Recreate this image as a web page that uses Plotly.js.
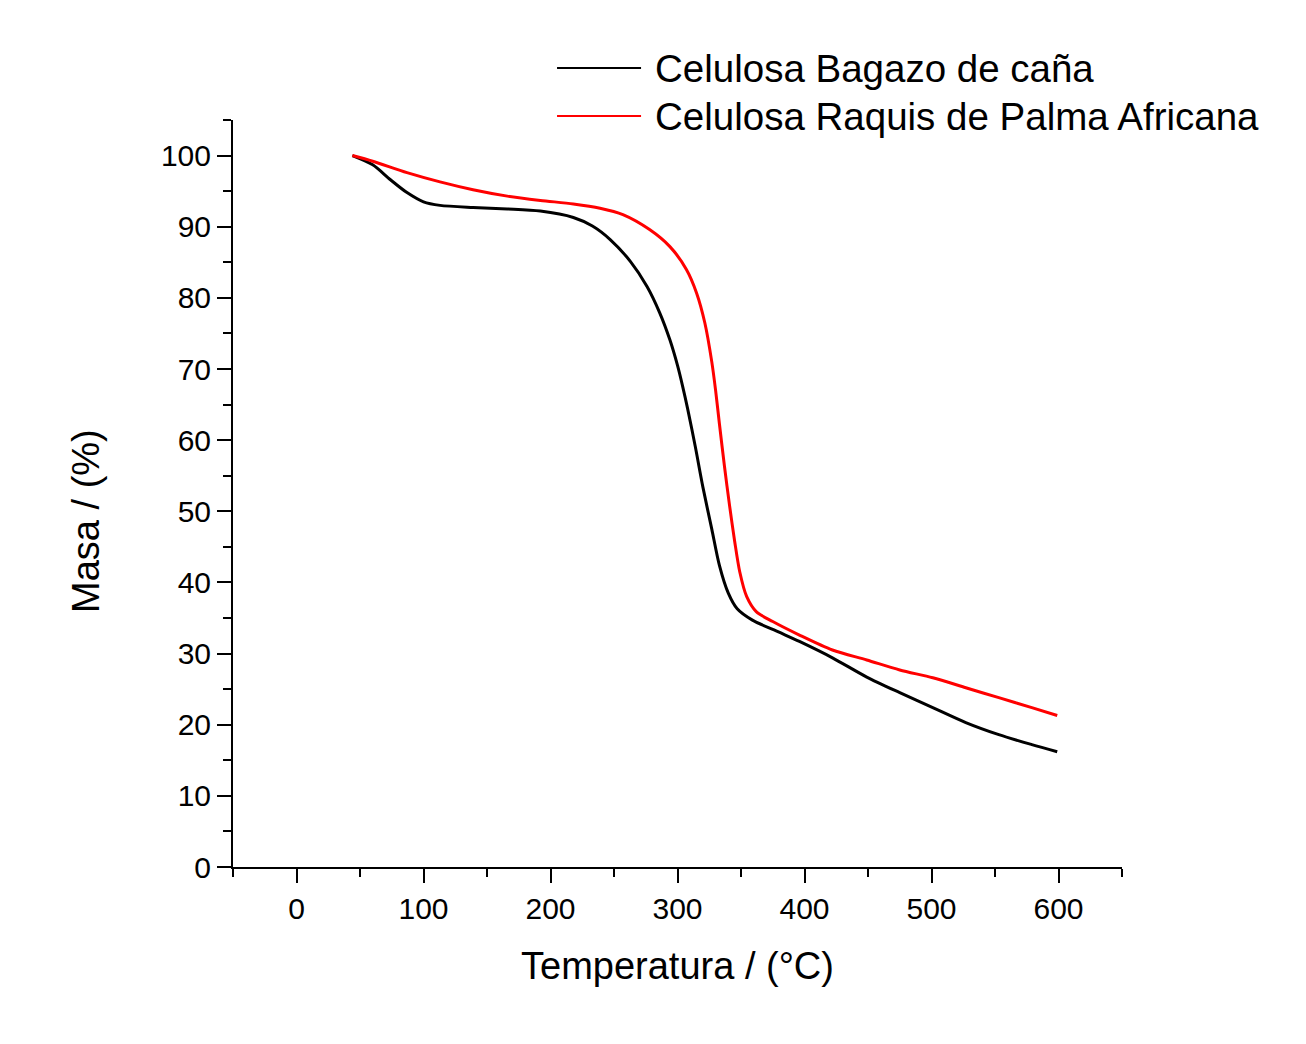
<!DOCTYPE html>
<html>
<head>
<meta charset="utf-8">
<script src="https://cdn.plot.ly/plotly-3.0.1.min.js"></script>
<style>body{margin:0;background:#fff}</style>
</head>
<body>
<div id="tga" style="width:1306px;height:1044px"></div>
<script>
// Celulosa Bagazo de caña
var tempBagazo = [44, 60, 74, 87, 100, 113, 139, 166, 192, 218, 233, 247, 263, 276, 286, 294, 300, 304, 308, 314, 320, 327, 333, 340, 347, 359, 380, 396, 422, 449, 475, 501, 527, 553, 579, 599];
var masaBagazo = [100, 98.7, 96.6, 94.8, 93.5, 93.0, 92.7, 92.5, 92.2, 91.3, 90.1, 88.2, 85.1, 81.6, 77.9, 74.1, 70.5, 67.6, 64.4, 59.1, 53.4, 47.5, 42.4, 38.5, 36.3, 34.7, 33.0, 31.7, 29.4, 26.7, 24.5, 22.4, 20.3, 18.6, 17.2, 16.2];

// Celulosa Raquis de Palma Africana
var tempRaquis = [44, 60, 87, 113, 139, 166, 192, 218, 239, 257, 278, 294, 307, 315, 321.5, 327, 330, 333, 337, 341, 345, 349, 354.5, 362, 375, 396, 422, 449, 475, 501, 527, 553, 579, 599];
var masaRaquis = [100, 99.2, 97.6, 96.3, 95.2, 94.3, 93.7, 93.2, 92.6, 91.7, 89.6, 87.2, 84.0, 80.7, 76.5, 71.0, 67.0, 62.3, 56.3, 50.8, 45.8, 41.5, 38.0, 35.9, 34.5, 32.6, 30.5, 29.1, 27.7, 26.6, 25.2, 23.8, 22.4, 21.3];

var seriesNames = ["Celulosa Bagazo de caña", "Celulosa Raquis de Palma Africana"];
var seriesColors = ["#000000", "#ff0000"];

var fnt = "Liberation Sans, Arial, sans-serif";

var data = [
  {x: tempBagazo, y: masaBagazo, name: seriesNames[0], type: "scatter", mode: "lines",
   line: {color: seriesColors[0], width: 3, shape: "spline", smoothing: 0.8}},
  {x: tempRaquis, y: masaRaquis, name: seriesNames[1], type: "scatter", mode: "lines",
   line: {color: seriesColors[1], width: 3, shape: "spline", smoothing: 0.8}}
];

// legend drawn by hand so the sample lines are long like the original
var legY = [1.0696, 1.0053];
var shapes = [], notes = [];
for (var i = 0; i < seriesNames.length; i++) {
  shapes.push({type: "line", xref: "paper", yref: "paper", x0: 0.3645, x1: 0.459, y0: legY[i], y1: legY[i],
    line: {color: seriesColors[i], width: 2}});
  notes.push({xref: "paper", yref: "paper", x: 0.4725, y: legY[i], xanchor: "left", yanchor: "middle",
    text: seriesNames[i], showarrow: false, font: {family: fnt, size: 38.5, color: "#000"}});
}
// y title sits a bit below the middle in the original
notes.push({xref: "paper", yref: "paper", x: -0.1654, y: 0.4632, xanchor: "center", yanchor: "middle",
  textangle: -90, text: "Masa / (%)", showarrow: false, font: {family: fnt, size: 38, color: "#000"}});

var axisCommon = {
  showgrid: false, zeroline: false, showline: true, linecolor: "#000", linewidth: 2,
  ticks: "outside", ticklen: 14, tickwidth: 2, tickcolor: "#000",
  tickfont: {family: fnt, size: 30, color: "#000"},
  minor: {ticks: "outside", ticklen: 8, tickwidth: 2, tickcolor: "#000", showgrid: false}
};

var layout = {
  width: 1306, height: 1044,
  margin: {l: 233, r: 184, t: 120, b: 177},
  paper_bgcolor: "#fff", plot_bgcolor: "#fff",
  showlegend: false,
  xaxis: Object.assign({}, axisCommon, {
    range: [-50, 650], dtick: 100, tick0: 0,
    minor: Object.assign({}, axisCommon.minor, {dtick: 50}),
    title: {text: "Temperatura / (°C)", font: {family: fnt, size: 38, color: "#000"}, standoff: 28}
  }),
  yaxis: Object.assign({}, axisCommon, {
    range: [0, 105], dtick: 10, tick0: 0,
    minor: Object.assign({}, axisCommon.minor, {dtick: 5})
  }),
  shapes: shapes,
  annotations: notes
};

Plotly.newPlot("tga", data, layout, {displayModeBar: false});
</script>
</body>
</html>
